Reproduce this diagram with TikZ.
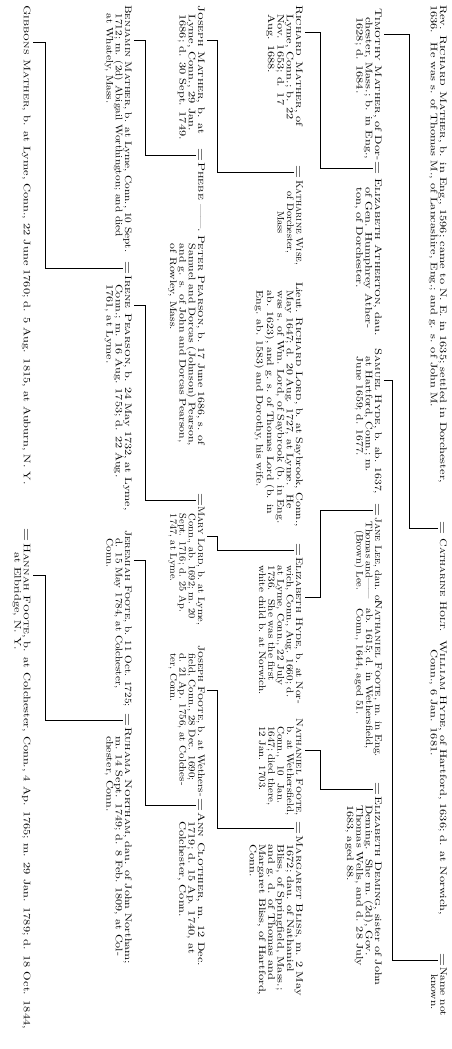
\documentclass[tikz,border=0pt]{standalone}
\usepackage{tikz}
\usetikzlibrary{positioning,calc}
\tikzset{
  entry/.style={inner sep=0pt, anchor=north west, align=left, font=\fontsize{9.5}{9.3}\selectfont, xscale=#1},
  entry/.default=1.3,
  wed/.style={inner sep=0pt, font=\fontsize{15}{15}\selectfont, xscale=1.2},
  kin/.style={line width=0.75pt}
}
\newcommand{\hi}{\hspace*{7pt}}
\begin{document}
\begin{tikzpicture}[x=1pt,y=1pt]
\useasboundingbox (0,0) rectangle (452,-1049);
\begin{scope}[rotate=-90, transform shape]
  % first generation
  \node[entry] (rmather) at (5,447) {Rev. \textsc{Richard Mather}, b. in Eng., 1596; came to N. E. in 1635; settled in Dorchester,\\1636. \ He was s. of Thomas M., of Lancashire, Eng.; and g. s. of John M.};
  \node[wed] (w1) at (528,441) {=};
  \node[entry=1.18] (cholt) at (538,447) {\textsc{Catharine Holt}.};
  \node[entry] (whyde) at (640,447) {\textsc{William Hyde}, of Hartford, 1636; d. at Norwich,\\\hi Conn., 6 Jan. 1681.};
  \node[wed] (w2) at (960,441) {=};
  \node[entry=1.2, align=center] (nwife) at (967,447) {Name not\\known.};
  % second generation
  \node[entry] (tmather) at (8,382) {\textsc{Timothy Mather}, of Dor-\\\hi chester, Mass.; b. in Eng.,\\\hi 1628; d. 1684.};
  \node[wed] (w3) at (168,376) {=};
  \node[entry] (eatherton) at (178,382) {\textsc{Elizabeth Atherton}, dau.\\\hi of Gen. Humphrey Ather-\\\hi ton, of Dorchester.};
  \node[entry=1.22] (shyde) at (348,382) {\textsc{Samuel Hyde}, b. ab. 1637,\\\hi at Hartford, Conn.; m.\\\hi June 1659; d. 1677.};
  \node[wed] (w4) at (510,376) {=};
  \node[entry=1.1, align=center] (jlee) at (517,382) {\textsc{Jane Lee}, dau. of\\Thomas and——\\(Brown) Lee.};
  \node[entry=1.18] (nfootesr) at (600,382) {\textsc{Nathaniel Foote}, m. in Eng.\\\hi ab. 1615; d. in Wethersfield,\\\hi Conn., 1644, aged 51.};
  \node[wed] (w5) at (789,376) {=};
  \node[entry=1.28] (edeming) at (796,382) {\textsc{Elizabeth Deming}, sister of John\\\hi Deming. \ She m. (2d), Gov.\\\hi Thomas Wells, and d. 28 July\\\hi 1683, aged 88.};
  % third generation
  \node[entry] (richmather) at (5,303) {\textsc{Richard Mather}, of\\\hi Lyme, Conn.; b. 22\\\hi Nov. 1653; d. 17\\\hi Aug. 1688.};
  \node[wed] (w6) at (172,297) {=};
  \node[entry=1.07, align=center] (kwise) at (180,303) {\textsc{Katharine Wise},\\of Dorchester,\\Mass};
  \node[entry=1.24] (rlord) at (282,303) {Lieut. \textsc{Richard Lord}, b. at Saybrook, Conn.,\\\hi May 1647; d. 20 Aug. 1727, at Lyme. \ He\\\hi was s. of Wm. Lord, of Saybrook (b. in Eng.\\\hi ab. 1623), and g. s. of Thomas Lord (b. in\\\hi Eng. ab. 1583) and Dorothy, his wife.};
  \node[wed] (w7) at (550,297) {=};
  \node[entry=1.18] (ehyde) at (557,303) {\textsc{Elizabeth Hyde}, b. at Nor-\\\hi wich, Conn., Aug. 1660; d.\\\hi at Lyme, Conn., 22 July\\\hi 1736. \ She was the first\\\hi white child b. at Norwich.};
  \node[entry=1.15] (nfoote) at (718,303) {\textsc{Nathaniel Foote},\\\hi b. at Wethersfield,\\\hi Conn., \ 10 \ Jan.\\\hi 1647; died there,\\\hi 12 Jan. 1703.};
  \node[wed] (w8) at (828,297) {=};
  \node[entry] (mbliss) at (835,303) {\textsc{Margaret Bliss}, m. 2 May\\\hi 1672; dau. of Nathaniel\\\hi Bliss, of Springfield, Mass.;\\\hi and g. d. of Thomas and\\\hi Margaret Bliss, of Hartford,\\\hi Conn.};
  % fourth generation
  \node[entry] (jmather) at (5,205) {\textsc{Joseph Mather}, b. at\\\hi Lyme, Conn., 29 Jan.\\\hi 1686; d. 30 Sept. 1749.};
  \node[wed] (w9) at (155,199) {=};
  \node[entry] (phebe) at (162,205) {\textsc{Phebe} ——.};
  \node[entry=1.24] (ppearson) at (235,205) {\textsc{Peter Pearson}, b. 17 June 1686, s. of\\\hi Samuel and Dorcas (Johnson) Pearson,\\\hi and g. s. of John and Dorcas Pearson,\\\hi of Rowley, Mass.};
  \node[wed] (w10) at (500,199) {=};
  \node[entry=1.09] (mlord) at (506,205) {\textsc{Mary Lord}, b. at Lyme,\\\hi Conn., ab. 1692; m. 20\\\hi Sept. 1716; d. 25 Ap.\\\hi 1747, at Lyme.};
  \node[entry=1.15] (jfoote) at (645,205) {\textsc{Joseph Foote}, b. at Wethers-\\\hi field, Conn., 28 Dec. 1690;\\\hi d. 21 Ap. 1756, at Colches-\\\hi ter, Conn.};
  \node[wed] (w11) at (805,199) {=};
  \node[entry] (aclothier) at (812,205) {\textsc{Ann Clothier}, m. 12 Dec.\\\hi 1719; d. 15 Ap. 1740, at\\\hi Colchester, Conn.};
  % fifth generation
  \node[entry=1.19] (bmather) at (5,132) {\textsc{Benjamin Mather}, b. at Lyme, Conn., 10 Sept.\\\hi 1712; m. (2d) Abigail Worthington; and died\\\hi at Whately, Mass.};
  \node[wed] (w12) at (268,126) {=};
  \node[entry=1.28] (ipearson) at (275,132) {\textsc{Irene Pearson}, b. 24 May 1732, at Lyme,\\\hi Conn.; m. 16 Aug. 1753; d. 22 Aug.\\\hi 1761, at Lyme.};
  \node[entry=1.17] (jerfoote) at (530,132) {\textsc{Jeremiah Foote}, b. 11 Oct. 1725;\\\hi d. 15 May 1784, at Colchester,\\\hi Conn.};
  \node[wed] (w13) at (720,126) {=};
  \node[entry=1.27] (rnortham) at (727,132) {\textsc{Ruhama Northam}, dau. of John Northam;\\\hi m. 14 Sept. 1749; d. 8 Feb. 1809, at Col-\\\hi chester, Conn.};
  % sixth generation
  \node[entry] (gmather) at (5,31) {\textsc{Gibbons Mather}, b. at Lyme, Conn., 22 June 1760; d. 5 Aug. 1815, at Auburn, N. Y.};
  \node[wed] (w14) at (535,25) {=};
  \node[entry] (hfoote) at (543,31) {\textsc{Hannah Foote}, b. at Colchester, Conn., 4 Ap. 1765; m. 29 Jan. 1789; d. 18 Oct. 1844,\\\hi at Elbridge, N. Y.};
  % descent lines
  \draw[kin] (w1.south) |- ($(tmather.north west)+(26,27)$) -- ++(0,-25);
  \draw[kin] (w2.south) |- ($(shyde.north west)+(32,10)$) -- ++(0,-8);
  \draw[kin] (w3.south) |- ($(richmather.north west)+(27,17)$) -- ++(0,-15);
  \draw[kin] (w4.south) |- ($(ehyde.north west)+(40,17)$) -- ++(0,-15);
  \draw[kin] (w5.south) |- ($(nfoote.north west)+(32,17)$) -- ++(0,-15);
  \draw[kin] (w6.south) |- ($(jmather.north west)+(35,12)$) -- ++(0,-10);
  \draw[kin] (w7.south) |- ($(mlord.north west)+(30,12)$) -- ++(0,-10);
  \draw[kin] (w8.south) |- ($(jfoote.north west)+(45,12)$) -- ++(0,-10);
  \draw[kin] (w9.south) |- ($(bmather.north west)+(35,13)$) -- ++(0,-11);
  \draw[kin] (w10.south) |- ($(ipearson.north west)+(30,13)$) -- ++(0,-11);
  \draw[kin] (w11.south) |- ($(jerfoote.north west)+(30,13)$) -- ++(0,-11);
  \draw[kin] (w12.south) |- ($(gmather.north west)+(37,14)$) -- ++(0,-12);
  \draw[kin] (w13.south) |- ($(hfoote.north west)+(32,14)$) -- ++(0,-12);
\end{scope}
\end{tikzpicture}
\end{document}
